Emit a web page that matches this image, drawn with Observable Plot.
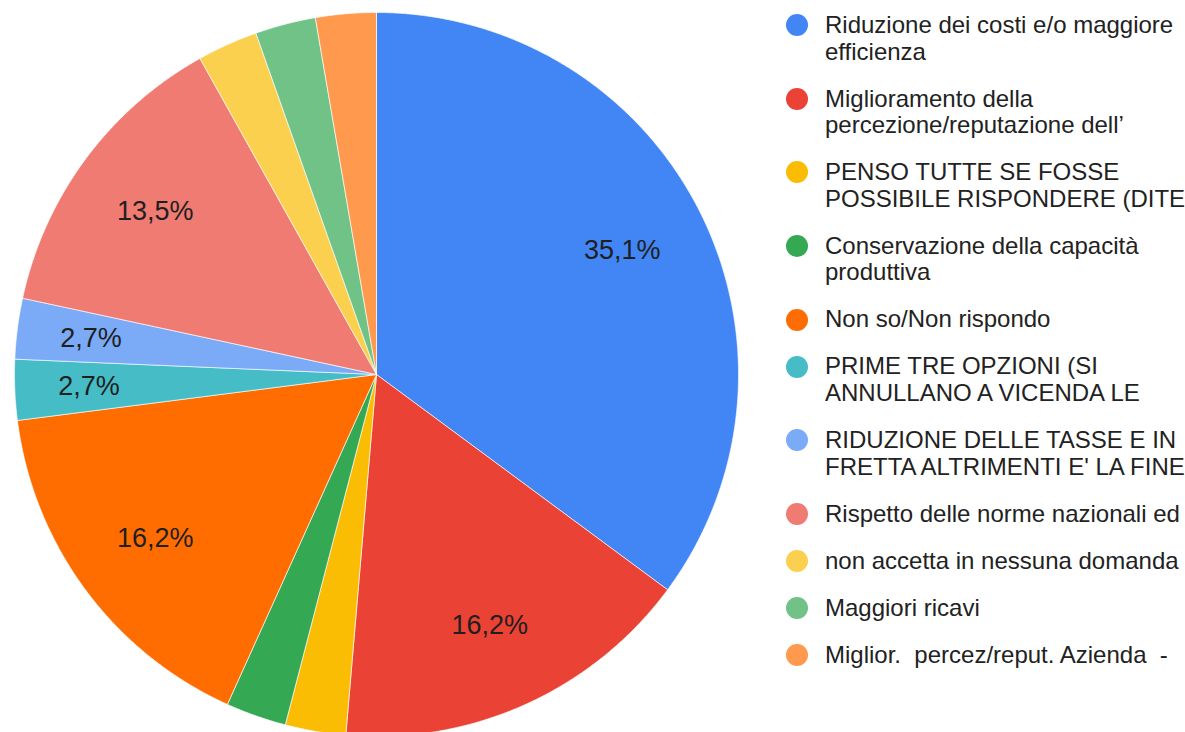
<!DOCTYPE html>
<html><head><meta charset="utf-8">
<script src="https://cdn.jsdelivr.net/npm/d3@7"></script>
<script src="https://cdn.jsdelivr.net/npm/@observablehq/plot@0.6"></script>
<style>
html,body{margin:0;padding:0;background:#fff;}
#wrap{position:relative;width:1185px;height:732px;overflow:hidden;font-family:"Liberation Sans",Arial,sans-serif;}
#chart{position:absolute;left:0;top:0;}
#legend{position:absolute;left:786px;top:12px;}
.item{display:flex;align-items:flex-start;margin-bottom:20.6px;}
.dot{width:22px;height:22px;border-radius:50%;margin-top:2.25px;flex:none;}
.lab{margin-left:17px;font-size:24px;line-height:26.5px;color:#222;white-space:pre;}
</style></head><body>
<div id="wrap"><div id="chart"></div><div id="legend"></div></div>
<script>
const legendLines = [
  ["Riduzione dei costi e/o maggiore","efficienza"],
  ["Miglioramento della","percezione/reputazione dell’"],
  ["PENSO TUTTE SE FOSSE","POSSIBILE RISPONDERE (DITE"],
  ["Conservazione della capacità","produttiva"],
  ["Non so/Non rispondo"],
  ["PRIME TRE OPZIONI (SI","ANNULLANO A VICENDA LE"],
  ["RIDUZIONE DELLE TASSE E IN","FRETTA ALTRIMENTI E' LA FINE"],
  ["Rispetto delle norme nazionali ed"],
  ["non accetta in nessuna domanda"],
  ["Maggiori ricavi"],
  ["Miglior.  percez/reput. Azienda  -"]
];
const categories = legendLines.map(l => l.join(" "));
const counts = [13, 6, 1, 1, 6, 1, 1, 5, 1, 1, 1];
const showLabel = [true, true, false, false, true, true, true, true, false, false, false];
const colors = ["#4285f4","#ea4335","#fbbc04","#34a853","#ff6d01","#46bdc6","#7baaf7","#f07b72","#fcd04f","#71c287","#ff994d"];

const total = d3.sum(counts);
const data = categories.map((c, i) => ({category: c, count: counts[i], show: showLabel[i]}));
const arcs = d3.pie().sort(null).value(d => d.count)(data);

const pts = [];
const labels = [];
arcs.forEach(a => {
  const key = a.data.category;
  const n = Math.max(2, Math.ceil((a.endAngle - a.startAngle) / (Math.PI / 720)));
  pts.push({key, x: 0, y: 0});
  for (let i = 0; i <= n; i++) {
    const t = a.startAngle + (a.endAngle - a.startAngle) * i / n;
    pts.push({key, x: Math.sin(t), y: Math.cos(t)});
  }
  pts.push({key, x: 0, y: 0});
  if (a.data.show) {
    const share = a.data.count / total;
    const r = share >= 0.1 ? 0.76 : 0.795;
    const m = (a.startAngle + a.endAngle) / 2;
    labels.push({x: r * Math.sin(m), y: r * Math.cos(m),
      text: (share * 100).toFixed(1).replace(".", ",") + "%"});
  }
});

const chart = Plot.plot({
  width: 760, height: 732, margin: 0,
  style: {fontFamily: '"Liberation Sans", Arial, sans-serif', background: "transparent"},
  x: {domain: [-1, 1], range: [14, 738], axis: null},
  y: {domain: [-1, 1], range: [736, 12], axis: null},
  color: {domain: categories, range: colors},
  marks: [
    Plot.line(pts, {x: "x", y: "y", z: "key", fill: "key", stroke: "#ffffff", strokeWidth: 0.8, strokeOpacity: 0.8, curve: "linear"}),
    Plot.text(labels, {x: "x", y: "y", text: "text", fontSize: 27, fill: "#1f1f1f"})
  ]
});
document.getElementById("chart").appendChild(chart);

const legend = document.getElementById("legend");
legendLines.forEach((lines, i) => {
  const item = document.createElement("div");
  item.className = "item";
  const dot = document.createElement("div");
  dot.className = "dot";
  dot.style.background = colors[i];
  const lab = document.createElement("div");
  lab.className = "lab";
  lab.textContent = lines.join("\n");
  item.appendChild(dot);
  item.appendChild(lab);
  legend.appendChild(item);
});
</script>
</body></html>
